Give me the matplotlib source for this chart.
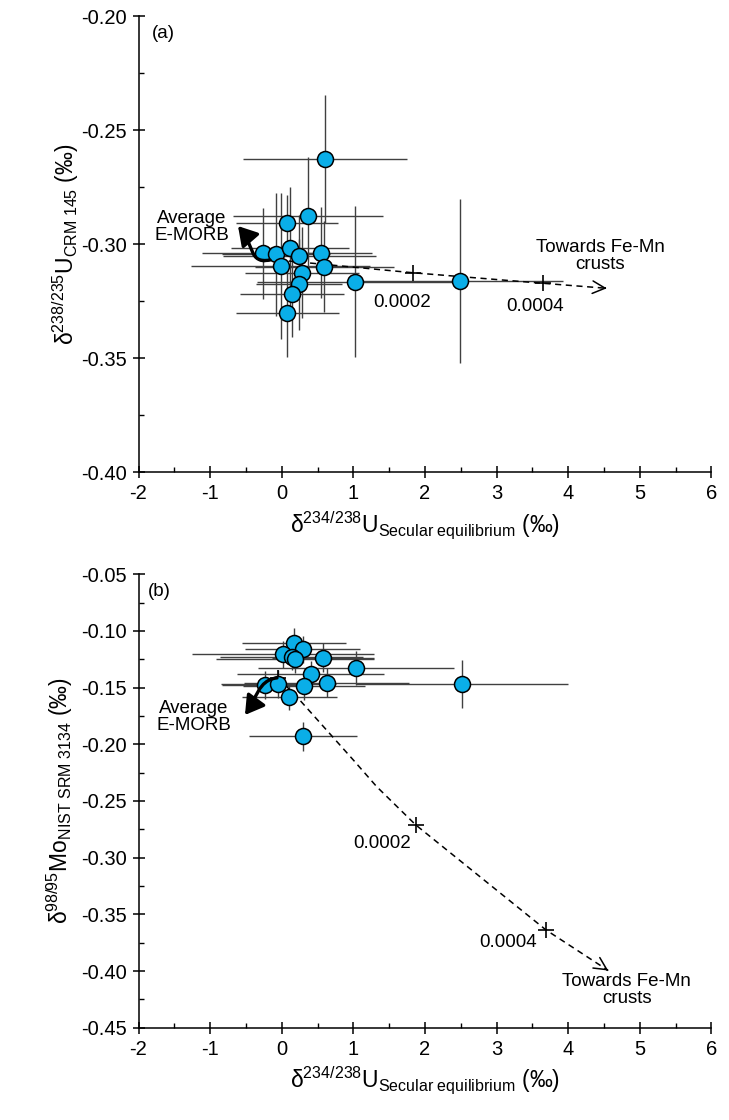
import matplotlib
matplotlib.use('Agg')
import matplotlib.pyplot as plt
from matplotlib.patches import FancyArrowPatch
from matplotlib.path import Path
from matplotlib.ticker import MultipleLocator, FormatStrFormatter

plt.rcParams['font.family'] = ['Liberation Sans', 'DejaVu Sans']
plt.rcParams['mathtext.fontset'] = 'custom'
plt.rcParams['mathtext.rm'] = 'Liberation Sans'
plt.rcParams['mathtext.it'] = 'Liberation Sans:italic'
plt.rcParams['mathtext.default'] = 'regular'

# ---------------- Panel (a): d238/235U vs d234/238U ----------------
a_x = [0.605, 0.363, 0.078, -0.257, -0.080, 0.116, 0.246, 0.545, -0.014, 0.595, 0.284, 0.242, 0.144, 0.078, 1.020, 2.49]
a_y = [-0.2626, -0.2875, -0.2905, -0.3039, -0.3043, -0.3018, -0.3051, -0.3037, -0.3095, -0.3098,
       -0.3125, -0.3175, -0.3217, -0.3303, -0.3164, -0.3161]
a_xerr = [1.14, 1.05, 0.71, 0.85, 0.75, 0.82, 1.07, 0.72, 1.25, 0.97, 0.80, 0.60, 0.72, 0.72, 1.37, 1.44]
a_yerr = [0.028, 0.026, 0.012, 0.020, 0.027, 0.027, 0.018, 0.020, 0.032, 0.020, 0.020, 0.020, 0.019, 0.019, 0.033, 0.036]

a_mix_x = [-0.05, 1.84, 3.65, 4.54]
a_mix_y = [-0.3069, -0.3125, -0.3171, -0.3193]
a_emorb = (-0.05, -0.3069)
a_frac_x = [1.84, 3.65]
a_frac_y = [-0.3125, -0.3171]

# ---------------- Panel (b): d98/95Mo vs d234/238U ----------------
b_x = [0.172, 0.293, 0.022, 0.140, 0.186, 0.581, 1.038, 0.405, 0.311, 0.628, -0.233, -0.047, 0.106, 0.293, 2.522]
b_y = [-0.1103, -0.1161, -0.1205, -0.1227, -0.1247, -0.1235, -0.1324, -0.1382, -0.1482, -0.1456,
       -0.1476, -0.1467, -0.1579, -0.193, -0.147]
b_xerr = [0.72, 0.80, 1.27, 1.00, 1.10, 0.71, 1.37, 1.03, 0.85, 1.15, 0.60, 0.80, 0.66, 0.755, 1.48]
b_yerr = [0.013, 0.012, 0.012, 0.012, 0.012, 0.013, 0.015, 0.012, 0.013, 0.013, 0.012, 0.012, 0.012, 0.013, 0.021]

b_mix_x = [-0.05, 0.209, 1.0, 1.326, 1.872, 3.69, 4.561]
b_mix_y = [-0.1415, -0.1579, -0.2138, -0.2373, -0.2711, -0.3637, -0.3996]
b_emorb = (-0.05, -0.1415)
b_frac_x = [1.872, 3.69]
b_frac_y = [-0.2711, -0.3637]

frac_labels = ['0.0002', '0.0004']

x_ticks = [-2, -1, 0, 1, 2, 3, 4, 5, 6]
a_yticks = [-0.40, -0.35, -0.30, -0.25, -0.20]
b_yticks = [-0.45, -0.40, -0.35, -0.30, -0.25, -0.20, -0.15, -0.10, -0.05]

POINT_COLOR = '#0aaee8'
ERR_COLOR = '#404040'
FS_TICK = 14.5
FS_ANN = 13.5
FS_LAB = 16.5

fig = plt.figure(figsize=(7.29, 11.2), dpi=100)
W, H = 729.0, 1120.0
ax_a = fig.add_axes([138.5 / W, 1 - 472.3 / H, (711.3 - 138.5) / W, (472.3 - 16.3) / H])
ax_b = fig.add_axes([138.5 / W, 1 - 1027.7 / H, (711.3 - 138.5) / W, (1027.7 - 574.3) / H])


def style_axes(ax, yticks, ylim, yminor):
    ax.set_xlim(-2, 6)
    ax.set_ylim(*ylim)
    ax.set_xticks(x_ticks)
    ax.set_yticks(yticks)
    ax.xaxis.set_minor_locator(MultipleLocator(0.5))
    ax.yaxis.set_minor_locator(MultipleLocator(yminor))
    ax.yaxis.set_major_formatter(FormatStrFormatter('%.2f'))
    ax.xaxis.set_major_formatter(FormatStrFormatter('%d'))
    for s in ['top', 'right']:
        ax.spines[s].set_visible(False)
    for s in ['left', 'bottom']:
        ax.spines[s].set_linewidth(1.1)
    ax.tick_params(which='major', direction='inout', length=8, width=1.1,
                   labelsize=FS_TICK, pad=4.5)
    ax.tick_params(which='minor', direction='in', length=3.5, width=1.0)


def draw_points(ax, xs, ys, xe, ye):
    ax.errorbar(xs, ys, xerr=xe, yerr=ye, fmt='none', ecolor=ERR_COLOR,
                elinewidth=1.0, capsize=0, zorder=2)
    ax.plot(xs, ys, 'o', ms=11.5, mfc=POINT_COLOR, mec='black', mew=1.1,
            linestyle='none', zorder=4)


def draw_mixing(ax, mx, my, fx, fy, emorb):
    ax.plot(mx, my, linestyle=(0, (4, 3)), color='black', lw=1.1, zorder=3)
    ax.plot(fx, fy, '+', color='black', ms=11, mew=1.2, zorder=3)
    ax.plot([emorb[0]], [emorb[1]], '+', color='black', ms=11, mew=1.2, zorder=3)
    # open arrow head at the end of the mixing curve
    x1, y1 = mx[-1], my[-1]
    x0, y0 = mx[-2], my[-2]
    t = 0.97
    ax.annotate('', xy=(x1, y1), xytext=(x0 + t * (x1 - x0), y0 + t * (y1 - y0)),
                arrowprops=dict(arrowstyle='->,head_length=0.9,head_width=0.45',
                                lw=1.1, color='black', shrinkA=0, shrinkB=0),
                zorder=3)


def curved_arrow(ax, pts):
    codes = [Path.MOVETO, Path.CURVE4, Path.CURVE4, Path.CURVE4]
    p = FancyArrowPatch(path=Path(pts, codes),
                        arrowstyle='-|>,head_length=0.75,head_width=0.45',
                        mutation_scale=15, lw=2.4, color='black', zorder=5,
                        transform=ax.transData)
    ax.add_patch(p)


# ---------------- Panel (a) ----------------
ax = ax_a
style_axes(ax, a_yticks, (-0.40, -0.20), 0.025)
draw_points(ax, a_x, a_y, a_xerr, a_yerr)
draw_mixing(ax, a_mix_x, a_mix_y, a_frac_x, a_frac_y, a_emorb)
ax.text(1.675, -0.3257, frac_labels[0], fontsize=FS_ANN, ha='center', va='center')
ax.text(3.54, -0.3271, frac_labels[1], fontsize=FS_ANN, ha='center', va='center')
ax.text(4.45, -0.3053, 'Towards Fe-Mn\ncrusts', fontsize=FS_ANN, ha='center', va='center',
        multialignment='center', linespacing=1.0)
ax.text(-1.26, -0.2924, 'Average\nE-MORB', fontsize=FS_ANN, ha='center', va='center',
        multialignment='center', linespacing=1.0)
curved_arrow(ax, [(-0.163, -0.3069), (-0.47, -0.3085), (-0.37, -0.3007), (-0.610, -0.2920)])
ax.text(0.043, 0.963, '(a)', transform=ax.transAxes, fontsize=FS_ANN, ha='center', va='center')
ax.set_ylabel(r'δ$^{238/235}$U$_{CRM\ 145}$ (‰)', fontsize=FS_LAB)
ax.set_xlabel(r'δ$^{234/238}$U$_{Secular\ equilibrium}$ (‰)', fontsize=FS_LAB)
ax.yaxis.set_label_coords(-0.10, 0.5)
ax.xaxis.set_label_coords(0.5, -0.083)

# ---------------- Panel (b) ----------------
ax = ax_b
style_axes(ax, b_yticks, (-0.45, -0.05), 0.025)
draw_points(ax, b_x, b_y, b_xerr, b_yerr)
draw_mixing(ax, b_mix_x, b_mix_y, b_frac_x, b_frac_y, b_emorb)
ax.text(1.397, -0.2872, frac_labels[0], fontsize=FS_ANN, ha='center', va='center')
ax.text(3.166, -0.3748, frac_labels[1], fontsize=FS_ANN, ha='center', va='center')
ax.text(4.82, -0.4167, 'Towards Fe-Mn\ncrusts', fontsize=FS_ANN, ha='center', va='center',
        multialignment='center', linespacing=1.0)
ax.text(-1.225, -0.1756, 'Average\nE-MORB', fontsize=FS_ANN, ha='center', va='center',
        multialignment='center', linespacing=1.0)
curved_arrow(ax, [(-0.066, -0.1414), (-0.331, -0.1432), (-0.359, -0.1608), (-0.513, -0.1741)])
ax.text(0.037, 0.963, '(b)', transform=ax.transAxes, fontsize=FS_ANN, ha='center', va='center')
ax.set_ylabel(r'δ$^{98/95}$Mo$_{NIST\ SRM\ 3134}$ (‰)', fontsize=FS_LAB)
ax.set_xlabel(r'δ$^{234/238}$U$_{Secular\ equilibrium}$ (‰)', fontsize=FS_LAB)
ax.yaxis.set_label_coords(-0.11, 0.5)
ax.xaxis.set_label_coords(0.5, -0.083)

fig.savefig('out.png', dpi=100)
